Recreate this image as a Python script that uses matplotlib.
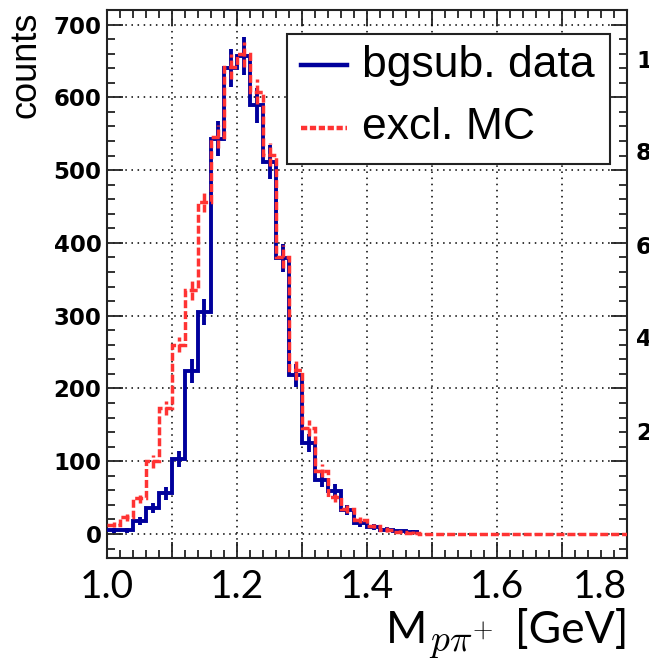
import numpy as np
import matplotlib
matplotlib.use("Agg")
import matplotlib.pyplot as plt
from matplotlib.ticker import FixedLocator, MultipleLocator
from matplotlib.patches import Rectangle
from matplotlib.lines import Line2D

plt.rcParams['mathtext.fontset'] = 'cm'

# ---------------- data ----------------
bin_lo, bin_hi, n_bins = 1.0, 1.8, 40
edges = np.linspace(bin_lo, bin_hi, n_bins + 1)

data_counts = [5, 5, 18, 36, 56, 103, 224, 305, 543, 640, 657, 589, 511, 379,
               218, 125, 74, 59, 33, 15, 10, 6, 4, 3]
data_errors = [3, 3, 5, 7, 9, 11, 16, 18, 24, 26, 26, 24, 23, 19,
               16, 13, 10, 9, 7, 5, 4, 3, 2, 2]

mc_counts = [13, 23, 49, 100, 173, 260, 335, 456, 546, 642, 659, 608, 521, 381,
             226, 146, 87, 51, 35, 19, 11, 6, 3, 2,
             0, 0, 0, 0, 0, 0, 0, 0, 0, 0, 0, 0, 0, 0, 0, 0]
mc_errors = [4, 5, 7, 9, 10, 10, 13, 14, 16, 17, 17, 17, 16, 16,
             14, 11, 9, 7, 6, 4, 3, 3, 2, 2,
             0, 0, 0, 0, 0, 0, 0, 0, 0, 0, 0, 0, 0, 0, 0, 0]

series_labels = ["bgsub. data", "excl. MC"]
x_ticks = [1.0, 1.1, 1.2, 1.3, 1.4, 1.5, 1.6, 1.7, 1.8]
x_tick_labels = ["1.0", "", "1.2", "", "1.4", "", "1.6", "", "1.8"]
y_ticks = [0, 100, 200, 300, 400, 500, 600, 700]
neighbor_labels = ["10", "8", "6", "4", "2"]

# ---------------- style ----------------
BLUE = '#00009C'
RED = '#FF3333'
W, H = 649, 664
fig = plt.figure(figsize=(W / 100, H / 100), dpi=100)
ax = fig.add_axes([107 / W, 1 - 558 / H, (627 - 107) / W, (558 - 10) / H])
ax.set_xlim(1.0, 1.8)
ax.set_ylim(-33, 720)

red_dash = (0, (2.3, 0.85))

# data histogram (blue, solid)
d_edges = edges[:len(data_counts) + 1]
d_cent = 0.5 * (d_edges[:-1] + d_edges[1:])
d_vals = np.array(data_counts, float)
d_err = np.array(data_errors, float)
ax.stairs(d_vals, d_edges, baseline=None, color=BLUE, lw=2.8, zorder=3)
ax.vlines(d_cent, d_vals - d_err, d_vals + d_err, colors=BLUE, lw=2.8, zorder=3)

# MC histogram (red, dashed)
m_cent = 0.5 * (edges[:-1] + edges[1:])
m_vals = np.array(mc_counts, float)
m_err = np.array(mc_errors, float)
ax.stairs(m_vals, edges, baseline=None, color=RED, lw=2.5, linestyle=red_dash, zorder=4)
mask = m_err > 0
ax.vlines(m_cent[mask], (m_vals - m_err)[mask], (m_vals + m_err)[mask], colors=RED,
          lw=2.5, linestyles=[red_dash], zorder=4)

# ticks
ax.set_xticks(x_ticks)
ax.set_xticklabels(x_tick_labels)
ax.xaxis.set_minor_locator(MultipleLocator(0.02))
ax.set_yticks(y_ticks)
ax.set_yticklabels([str(v) for v in y_ticks])
ax.yaxis.set_minor_locator(MultipleLocator(20))

ax.tick_params(which='both', direction='in', top=True, right=True, width=1.3, color='#222222')
ax.tick_params(which='major', length=11.5)
ax.tick_params(which='minor', length=5.5)
ax.tick_params(axis='x', which='major', pad=8)
ax.tick_params(axis='y', which='major', pad=4)
xlabs = ax.get_xticklabels()
for lab in xlabs:
    lab.set_fontfamily('Lato')
    lab.set_fontsize(28)
xlabs[-1].set_horizontalalignment('right')
for lab in ax.get_yticklabels():
    lab.set_fontfamily('DejaVu Sans')
    lab.set_fontweight('bold')
    lab.set_fontsize(16.5)

for s in ax.spines.values():
    s.set_linewidth(1.5)
    s.set_color('#222222')

ax.grid(True, which='major', color='black', linestyle=(0, (1, 3)), linewidth=1.1, zorder=1)
ax.set_axisbelow(True)

# legend (drawn in axes coordinates)
ax.add_patch(Rectangle((0.346, 0.719), 0.621, 0.237, transform=ax.transAxes,
                       facecolor='white', edgecolor='#222222', lw=1.5, zorder=6))
ax.add_line(Line2D([0.373, 0.4615], [0.8996, 0.8996], transform=ax.transAxes,
                   color=BLUE, lw=3.2, zorder=7))
ax.add_line(Line2D([0.373, 0.4615], [0.7847, 0.7847], transform=ax.transAxes,
                   color=RED, lw=3.2, linestyle=(0, (1.4, 0.6)), zorder=7))
ax.text(0.490, 0.8996, series_labels[0], transform=ax.transAxes, fontsize=32,
        family='Liberation Sans', va='center', ha='left', zorder=8)
ax.text(0.490, 0.7847, series_labels[1], transform=ax.transAxes, fontsize=32,
        family='Liberation Sans', va='center', ha='left', zorder=8)

# axis titles
fig.text(26 / W, 1 - 12 / H, 'counts', rotation=90, ha='center', va='top',
         fontsize=26, family='Liberation Sans')
fig.text(427 / W, 1 - 643 / H, 'M', ha='right', va='baseline',
         fontsize=32, family='Lato')
fig.text(429 / W, 1 - 652 / H, r'$p\pi^{+}$', ha='left', va='baseline',
         fontsize=27)
fig.text(628 / W, 1 - 643 / H, '[GeV]', ha='right', va='baseline',
         fontsize=32, family='Lato')

# partially visible labels of the neighbouring panel
for lab, yp in zip(neighbor_labels, [62, 154, 247, 340, 433]):
    fig.text(636 / W, 1 - yp / H, lab, ha='left', va='center', fontsize=16.5,
             family='DejaVu Sans', fontweight='bold')

fig.savefig('out.png', dpi=100)
